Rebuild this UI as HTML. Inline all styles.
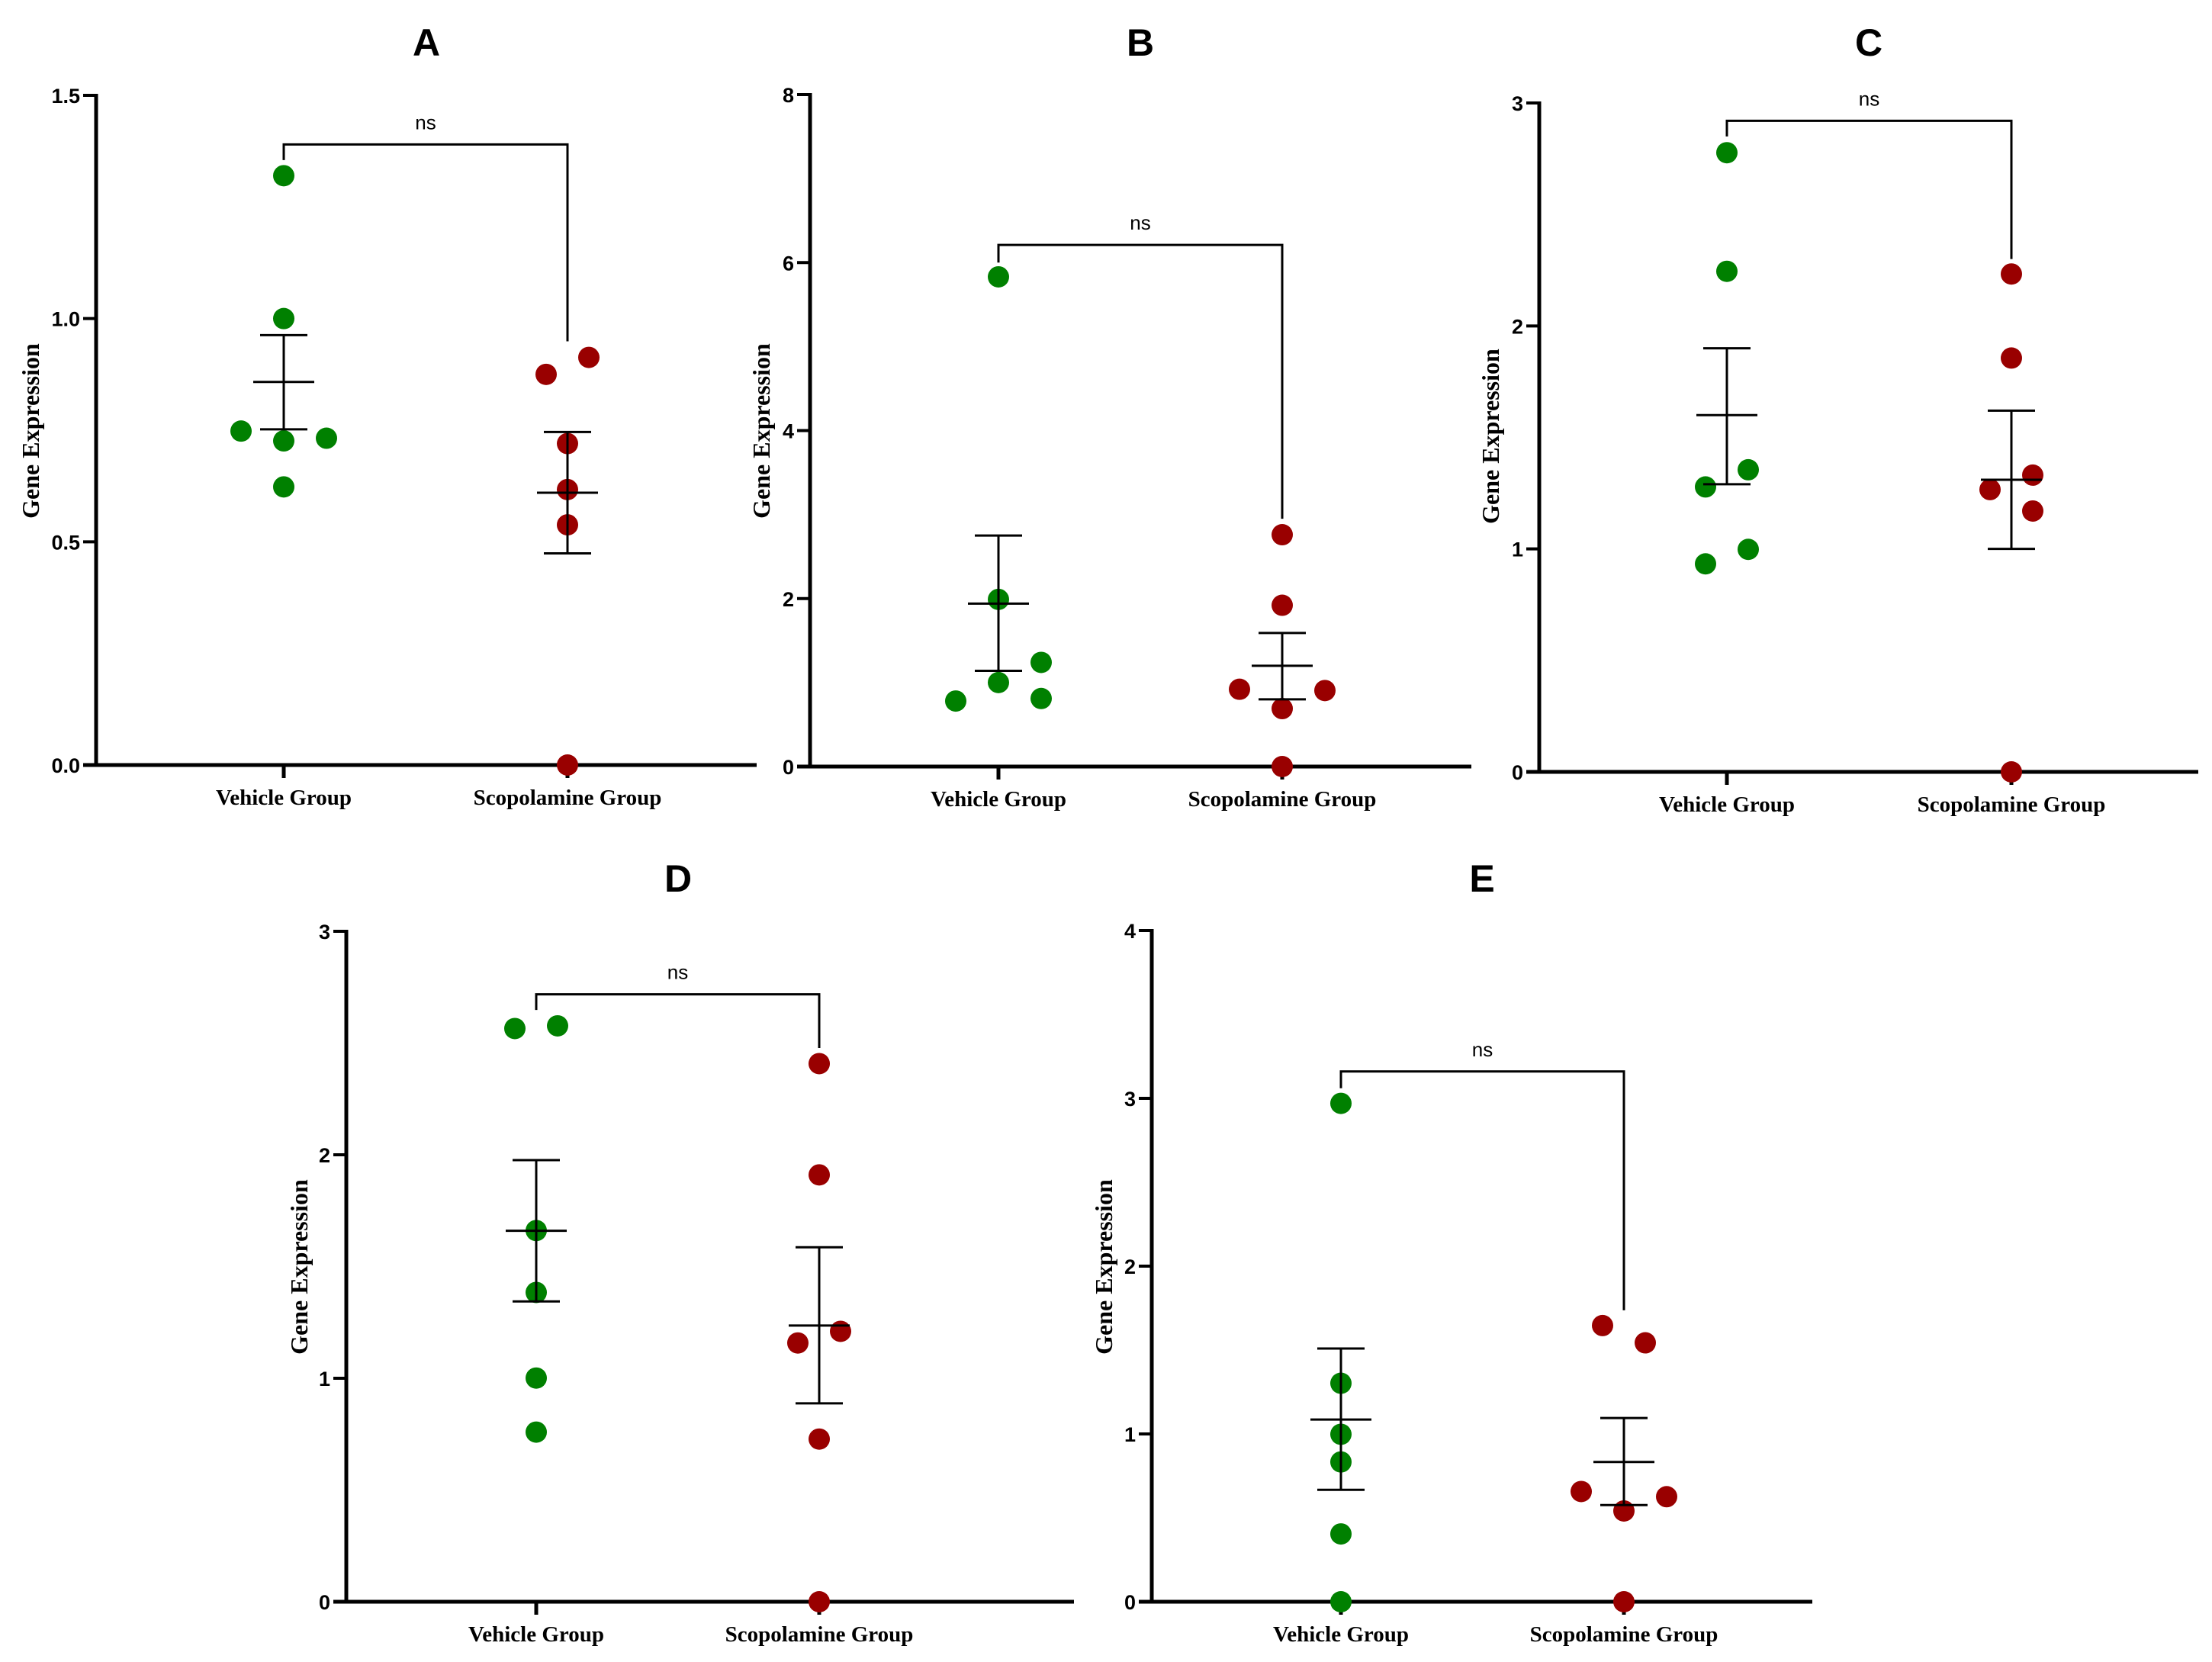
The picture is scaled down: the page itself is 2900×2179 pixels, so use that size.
<!DOCTYPE html>
<html><head><meta charset="utf-8"><style>
html,body{margin:0;padding:0;background:#fff;}
svg{display:block;}
.tick{font-family:"Liberation Sans",Arial,sans-serif;font-weight:bold;font-size:27px;fill:#000;}
.title{font-family:"Liberation Sans",Arial,sans-serif;font-weight:bold;font-size:50px;fill:#000;}
.cat{font-family:"Liberation Serif","Times New Roman",serif;font-weight:bold;font-size:29px;fill:#000;}
.ytitle{font-family:"Liberation Serif","Times New Roman",serif;font-weight:bold;font-size:32px;fill:#000;}
.ns{font-family:"Liberation Sans",Arial,sans-serif;font-size:26px;fill:#000;}
</style></head><body>
<svg id="fig" width="2900" height="2179" viewBox="0 0 2900 2179" xmlns="http://www.w3.org/2000/svg"></svg>
<script>
// ---- data ----
const categories = ["Vehicle Group", "Scopolamine Group"];
const panelLabels = ["A", "B", "C", "D", "E"];
const yMaxes = [1.5, 8, 3, 3, 4];
const yTicksA = ["0.0", "0.5", "1.0", "1.5"];
const yTicksB = ["0", "2", "4", "6", "8"];
const yTicksC = ["0", "1", "2", "3"];
const yTicksD = ["0", "1", "2", "3"];
const yTicksE = ["0", "1", "2", "3", "4"];
// vehicle values
const vehA = [1.32, 1.0, 0.748, 0.726, 0.732, 0.623];
const vehB = [5.83, 1.99, 1.24, 1.0, 0.81, 0.78];
const vehC = [2.777, 2.245, 1.355, 1.278, 0.998, 0.933];
const vehD = [2.565, 2.577, 1.661, 1.384, 1.001, 0.759];
const vehE = [2.97, 1.302, 0.998, 0.833, 0.404, 0.0];
// scopolamine values
const scoA = [0.875, 0.913, 0.72, 0.617, 0.538, 0.0];
const scoB = [2.76, 1.92, 0.92, 0.905, 0.69, 0.0];
const scoC = [2.233, 1.856, 1.331, 1.266, 1.170, 0.0];
const scoD = [2.408, 1.91, 1.21, 1.158, 0.728, 0.0];
const scoE = [1.646, 1.543, 0.657, 0.626, 0.541, 0.0];
// jitter in dot-radius units
const jitVehA = [0, 0, -4, 0, 4, 0];
const jitVehB = [0, 0, 4, 0, 4, -4];
const jitVehC = [0, 0, 2, -2, 2, -2];
const jitVehD = [-2, 2, 0, 0, 0, 0];
const jitVehE = [0, 0, 0, 0, 0, 0];
const jitScoA = [-2, 2, 0, 0, 0, 0];
const jitScoB = [0, 0, -4, 4, 0, 0];
const jitScoC = [0, 0, 2, -2, 2, 0];
const jitScoD = [0, 0, 2, -2, 0, 0];
const jitScoE = [-2, 2, -4, 4, 0, 0];
// mean, upper SEM, lower SEM
const statVehA = [0.858, 0.963, 0.752];
const statVehB = [1.94, 2.75, 1.14];
const statVehC = [1.60, 1.90, 1.29];
const statVehD = [1.66, 1.976, 1.344];
const statVehE = [1.086, 1.509, 0.667];
const statScoA = [0.61, 0.746, 0.474];
const statScoB = [1.20, 1.59, 0.80];
const statScoC = [1.31, 1.62, 1.00];
const statScoD = [1.236, 1.586, 0.888];
const statScoE = [0.833, 1.095, 0.576];
// bracket: top, left end, right end (data units)
const brA = [1.39, 1.355, 0.949];
const brB = [6.21, 6.0, 2.95];
const brC = [2.92, 2.85, 2.30];
const brD = [2.718, 2.648, 2.478];
const brE = [3.16, 3.06, 1.737];

// ---- layout (pixels) ----
const layouts = [
 {ax:126, y0:1003, yTop:125, xEnd:992, cx:[372,744], tx:559, ty:56, ytx:40, yty:565},
 {ax:1062, y0:1005, yTop:124, xEnd:1929, cx:[1309,1681], tx:1495, ty:56, ytx:998, yty:565},
 {ax:2018, y0:1012, yTop:135, xEnd:2882, cx:[2264,2637], tx:2450, ty:56, ytx:1954, yty:572},
 {ax:454, y0:2100, yTop:1221, xEnd:1408, cx:[703,1074], tx:889, ty:1152, ytx:392, yty:1661},
 {ax:1510, y0:2100, yTop:1220, xEnd:2376, cx:[1758,2129], tx:1943, ty:1152, ytx:1447, yty:1661}
];
const ticksAll = [yTicksA, yTicksB, yTicksC, yTicksD, yTicksE];
const vehAll = [vehA, vehB, vehC, vehD, vehE];
const scoAll = [scoA, scoB, scoC, scoD, scoE];
const jvAll = [jitVehA, jitVehB, jitVehC, jitVehD, jitVehE];
const jsAll = [jitScoA, jitScoB, jitScoC, jitScoD, jitScoE];
const svAll = [statVehA, statVehB, statVehC, statVehD, statVehE];
const ssAll = [statScoA, statScoB, statScoC, statScoD, statScoE];
const brAll = [brA, brB, brC, brD, brE];

const NS = "http://www.w3.org/2000/svg";
const svg = document.getElementById("fig");
const R = 14;
function mk(tag, attrs, parent) {
  const e = document.createElementNS(NS, tag);
  for (const k in attrs) e.setAttribute(k, attrs[k]);
  parent.appendChild(e);
  return e;
}
function line(p, x1, y1, x2, y2, w) {
  return mk("line", {x1:x1, y1:y1, x2:x2, y2:y2, stroke:"#000", "stroke-width":w}, p);
}

layouts.forEach((L, i) => {
  const g = mk("g", {}, svg);
  
  
  const ymax = yMaxes[i];
  const yS = v => L.y0 - v / ymax * (L.y0 - L.yTop);

  const t = mk("text", {x:L.tx, y:L.ty + 17, "text-anchor":"middle", class:"title"}, g);
  t.textContent = panelLabels[i];
  
  

  const ya = line(g, L.ax, L.yTop - 2, L.ax, L.y0 + 2.5, 5);
  
  
  const xa = line(g, L.ax - 17, L.y0, L.xEnd, L.y0, 5);
  
  

  const ticks = ticksAll[i];
  ticks.forEach((lab, k) => {
    const v = ymax * k / (ticks.length - 1);
    const y = yS(v);
    line(g, L.ax - 17, y, L.ax, y, 4);
    const tt = mk("text", {x:L.ax - 21, y:y + 10, "text-anchor":"end", class:"tick"}, g);
    tt.textContent = lab;
    
    
  });

  const yt = mk("text", {x:L.ytx + 11, y:L.yty, "text-anchor":"middle", class:"ytitle", transform:"rotate(-90 " + (L.ytx + 11) + " " + L.yty + ")"}, g);
  yt.textContent = "Gene Expression";
  
  

  categories.forEach((c, k) => {
    line(g, L.cx[k], L.y0, L.cx[k], L.y0 + 17, 5);
    const ct = mk("text", {x:L.cx[k], y:L.y0 + 52, "text-anchor":"middle", class:"cat"}, g);
    ct.textContent = c;
    
    
  });

  const groups = [[vehAll[i], jvAll[i], "#008000", "vehicle"], [scoAll[i], jsAll[i], "#990000", "scopolamine"]];
  groups.forEach((gr, k) => {
    gr[0].forEach((v, j) => {
      const c = mk("circle", {cx:L.cx[k] + gr[1][j] * R, cy:yS(v), r:R, fill:gr[2]}, g);
      
      
    });
  });

  [svAll[i], ssAll[i]].forEach((st, k) => {
    const x = L.cx[k];
    const eg = mk("g", {}, g);
    
    
    line(eg, x, yS(st[1]), x, yS(st[2]), 3);
    line(eg, x - 40, yS(st[0]), x + 40, yS(st[0]), 3);
    line(eg, x - 31, yS(st[1]), x + 31, yS(st[1]), 3);
    line(eg, x - 31, yS(st[2]), x + 31, yS(st[2]), 3);
  });

  const b = brAll[i];
  const bp = mk("polyline", {points: L.cx[0] + "," + yS(b[1]) + " " + L.cx[0] + "," + yS(b[0]) + " " + L.cx[1] + "," + yS(b[0]) + " " + L.cx[1] + "," + yS(b[2]), fill:"none", stroke:"#000", "stroke-width":3}, g);
  
  
  const ns = mk("text", {x:(L.cx[0] + L.cx[1]) / 2, y:yS(b[0]) - 20, "text-anchor":"middle", class:"ns"}, g);
  ns.textContent = "ns";
  
  
});
</script>
</body></html>
